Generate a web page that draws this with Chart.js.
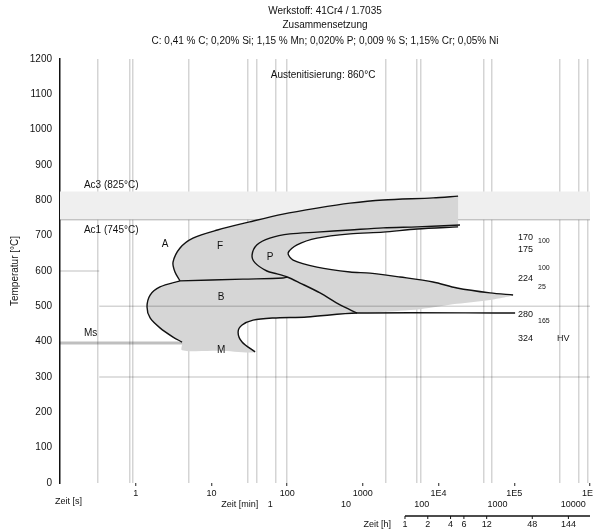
<!DOCTYPE html>
<html>
<head>
<meta charset="utf-8">
<script src="https://cdn.jsdelivr.net/npm/chart.js@4.4.1/dist/chart.umd.min.js"></script>
<style>
  html, body { margin: 0; padding: 0; background: #fff; }
  #wrap { position: relative; width: 593px; height: 531px; }
</style>
</head>
<body>
<div id="wrap"><canvas id="ttt" width="593" height="531"></canvas></div>
<script>
"use strict";

// --- text ---
var titleLines = [
    'Werkstoff: 41Cr4 / 1.7035',
    'Zusammensetzung',
    'C: 0,41 % C; 0,20% Si; 1,15 % Mn; 0,020% P; 0,009 % S; 1,15% Cr; 0,05% Ni'
];

// --- axes (time in s, temperature in °C) ---
var secTicks = [0.1, 1, 10, 100, 1000, 1e4, 1e5, 1e6];
var secLabels = ['', '1', '10', '100', '1000', '1E4', '1E5', '1E6'];
var minTicks = [1, 10, 100, 1000, 10000];
var hourTicks = [1, 2, 4, 6, 12, 48, 144];
var gridTimes = [0.32, 0.84, 0.92, 5, 30, 40, 70, 100, 2000, 5200, 5900, 40000, 51000, 400000, 700000, 920000];
var tempTicks = [0, 100, 200, 300, 400, 500, 600, 700, 800, 900, 1000, 1100, 1200];

// --- transformation temperatures ---
var ac1 = 745;
var ac3 = 825;
var ms = 396;

// --- curves [t (s), T (°C)] ---
var ferriteStart = [[18100, 812], [8460, 807], [1850, 801], [678, 792], [248, 778], [88, 761], [32, 739],
    [12, 716], [5.7, 693], [3.85, 665], [3.11, 625], [3.3, 597], [3.85, 572]];
var bainiteTop = [[3.85, 572], [26, 577], [88, 580], [100, 583]];
var bainiteStart = [[3.85, 572], [2.09, 555], [1.55, 532], [1.41, 498], [1.55, 467], [2.09, 439], [3.11, 413], [4.09, 399]];
var pearliteStart = [[19200, 730], [5200, 725], [1850, 722], [678, 716], [248, 710], [109, 705], [59, 693], [40, 674],
    [34.4, 645], [37.7, 623], [54, 600], [73.6, 592], [100, 583], [148, 566], [272, 538], [500, 504], [838, 481]];
var pearliteEnd = [[18100, 725], [5200, 719], [1850, 710], [678, 705], [248, 693], [135, 674], [103, 651], [120, 631],
    [248, 611], [678, 597], [1245, 594], [3100, 583], [8460, 569], [17500, 552], [47900, 538], [96400, 532]];
var bainiteEnd = [[37.7, 371], [25.4, 399], [22.5, 427], [25.4, 447], [35.5, 461], [65.2, 467], [183, 470], [838, 481], [102500, 481]];
// soft (unlined) edges of the shaded area
var shadeBottom = [[4.09, 376], [13, 374]];
var shadeTail = [[1690, 484], [5700, 492], [17500, 507], [47900, 518]];

// --- labels in the plot ---
var phaseLabels = [['A', 2.44, 676], ['F', 13, 671], ['P', 59.4, 640], ['B', 13.4, 526], ['M', 13.4, 376]];
var lineLabels = [['Ac3 (825°C)', 0.207, 843], ['Ac1 (745°C)', 0.207, 716], ['Ms', 0.207, 424]];
var hardness = [['170', 112000, 696], ['175', 112000, 662], ['224', 112000, 580], ['280', 112000, 478], ['324', 112000, 408], ['HV', 367000, 408]];
var percents = [['100', 206000, 686], ['100', 206000, 608], ['25', 206000, 554], ['165', 206000, 458]];
var austLabel = ['Austenitisierung: 860°C', 298, 1155];

function pts(arr) {
    return arr.map(function (p) { return { x: p[0], y: p[1] }; });
}

var FONT = '"Liberation Sans", Arial, sans-serif';
var allTimes = secTicks.concat(gridTimes.filter(function (v) { return secTicks.indexOf(v) < 0; }))
    .sort(function (a, b) { return a - b; });

var shadePoly = ferriteStart
    .concat(bainiteStart.slice(1))
    .concat(shadeBottom)
    .concat(bainiteEnd.slice(0, 8))
    .concat(shadeTail)
    .concat(pearliteEnd.slice().reverse());

function curve(arr) {
    return {
        data: pts(arr), showLine: true, borderColor: '#111', borderWidth: 1.4,
        pointRadius: 0, tension: 0.3, fill: false, order: 1
    };
}

// texts drawn through the scales
var textPlugin = {
    id: 'texts',
    afterDatasetsDraw: function (chart) {
        var ctx = chart.ctx, x = chart.scales.x, y = chart.scales.y;
        function put(item, size, align) {
            ctx.font = size + 'px ' + FONT;
            ctx.textAlign = align;
            ctx.textBaseline = 'middle';
            ctx.fillText(item[0], x.getPixelForValue(item[1]), y.getPixelForValue(item[2]));
        }
        ctx.save();
        ctx.fillStyle = '#111';
        phaseLabels.forEach(function (l) { put(l, 10, 'center'); });
        lineLabels.forEach(function (l) { put(l, 10, 'left'); });
        hardness.forEach(function (l) { put(l, 9, 'left'); });
        percents.forEach(function (l) { put(l, 7, 'left'); });
        put(austLabel, 10, 'center');
        ctx.restore();
    }
};

var framePlugin = {
    id: 'frame',
    afterDraw: function (chart) {
        var ctx = chart.ctx, x = chart.scales.x, a = chart.chartArea;
        var cx = (a.left + a.right) / 2;
        ctx.save();
        ctx.fillStyle = '#111';
        ctx.textBaseline = 'middle';
        ctx.textAlign = 'center';
        ctx.font = '10px ' + FONT;
        [11, 25, 41].forEach(function (yy, i) { ctx.fillText(titleLines[i], cx, yy); });

        ctx.font = '9px ' + FONT;
        ctx.textAlign = 'left';
        ctx.fillText('Zeit [s]', 55, 502);

        // minutes row
        ctx.textAlign = 'center';
        minTicks.forEach(function (m) { ctx.fillText(String(m), x.getPixelForValue(m * 60), 505); });
        ctx.textAlign = 'right';
        ctx.fillText('Zeit [min]', x.getPixelForValue(60) - 12, 505);

        // hours row
        var h0 = x.getPixelForValue(3600);
        ctx.strokeStyle = '#111';
        ctx.lineWidth = 1.5;
        ctx.beginPath();
        ctx.moveTo(h0, 516);
        ctx.lineTo(a.right, 516);
        ctx.stroke();
        ctx.lineWidth = 1;
        ctx.textAlign = 'center';
        hourTicks.forEach(function (h) {
            var px = x.getPixelForValue(h * 3600);
            ctx.beginPath();
            ctx.moveTo(px, 516);
            ctx.lineTo(px, 519);
            ctx.stroke();
            ctx.fillText(String(h), px, 525);
        });
        ctx.textAlign = 'right';
        ctx.fillText('Zeit [h]', h0 - 14, 525);
        ctx.restore();
    }
};

new Chart(document.getElementById('ttt'), {
    type: 'scatter',
    data: {
        datasets: [
            // Ac1-Ac3 band
            { data: pts([[0.1, ac1], [1e6, ac1], [1e6, ac3], [0.1, ac3]]), showLine: true, borderWidth: 0,
              backgroundColor: '#efefef', fill: 'shape', pointRadius: 0, order: 20 },
            { data: pts([[0.1, ac1], [1e6, ac1]]), showLine: true, borderColor: 'rgba(0,0,0,0.2)', borderWidth: 1.5, pointRadius: 0, order: 15 },
            { data: pts([[0.1, ms], [20, ms]]), showLine: true, borderColor: 'rgba(0,0,0,0.25)', borderWidth: 3, pointRadius: 0, order: 6 },
            // shaded transformation area
            { data: pts(shadePoly), showLine: true, borderWidth: 0, borderColor: 'rgba(0,0,0,0)',
              backgroundColor: '#d6d6d6', fill: 'shape', pointRadius: 0, tension: 0.3, order: 5 },
            // light reference lines
            { data: pts([[0.33, 500], [1e6, 500]]), showLine: true, borderColor: 'rgba(0,0,0,0.17)', borderWidth: 1.5, pointRadius: 0, order: 2 },
            { data: pts([[0.33, 300], [1e6, 300]]), showLine: true, borderColor: 'rgba(0,0,0,0.17)', borderWidth: 1.5, pointRadius: 0, order: 2 },
            { data: pts([[0.1, 600], [0.33, 600]]), showLine: true, borderColor: 'rgba(0,0,0,0.17)', borderWidth: 1.5, pointRadius: 0, order: 2 },
            curve(ferriteStart),
            curve(bainiteTop),
            curve(bainiteStart),
            curve(pearliteStart),
            curve(pearliteEnd),
            curve(bainiteEnd)
        ]
    },
    options: {
        responsive: false,
        animation: false,
        devicePixelRatio: 1,
        layout: { padding: { top: 59, right: 3, bottom: 0, left: 0 } },
        plugins: { legend: { display: false }, tooltip: { enabled: false }, title: { display: false } },
        scales: {
            x: {
                type: 'logarithmic',
                position: 'bottom',
                min: 0.1,
                max: 1e6,
                z: 1,
                border: { display: false },
                afterBuildTicks: function (s) {
                    s.ticks = allTimes.map(function (v) { return { value: v }; });
                },
                afterFit: function (s) {
                    s.height = 48;
                    s.paddingLeft = 0;
                    s.paddingRight = 0;
                },
                grid: {
                    lineWidth: 1.5,
                    tickLength: 3,
                    color: function (c) {
                        return c.tick && gridTimes.indexOf(c.tick.value) >= 0 ? 'rgba(0,0,0,0.17)' : 'rgba(0,0,0,0)';
                    },
                    tickColor: function (c) {
                        return c.tick && secTicks.indexOf(c.tick.value) > 0 ? '#222' : 'rgba(0,0,0,0)';
                    },
                    tickWidth: 1
                },
                ticks: {
                    autoSkip: false,
                    maxRotation: 0,
                    padding: 2,
                    color: '#111',
                    font: { size: 9, family: FONT },
                    callback: function (v) {
                        var i = secTicks.indexOf(v);
                        return i >= 0 ? secLabels[i] : '';
                    }
                }
            },
            y: {
                min: 0,
                max: 1200,
                afterBuildTicks: function (s) {
                    s.ticks = tempTicks.map(function (v) { return { value: v }; });
                },
                afterFit: function (s) {
                    s.width = 60;
                    s.paddingTop = 0;
                    s.paddingBottom = 0;
                },
                grid: { display: false, drawTicks: false },
                border: { display: true, color: '#111', width: 1.5 },
                title: { display: true, text: 'Temperatur [°C]', color: '#111',
                         font: { size: 10, family: FONT }, padding: { top: 9, bottom: 0 } },
                ticks: {
                    padding: 8, color: '#111', font: { size: 10, family: FONT },
                    callback: function (v) { return String(v); }
                }
            }
        }
    },
    plugins: [textPlugin, framePlugin]
});
</script>
</body>
</html>
